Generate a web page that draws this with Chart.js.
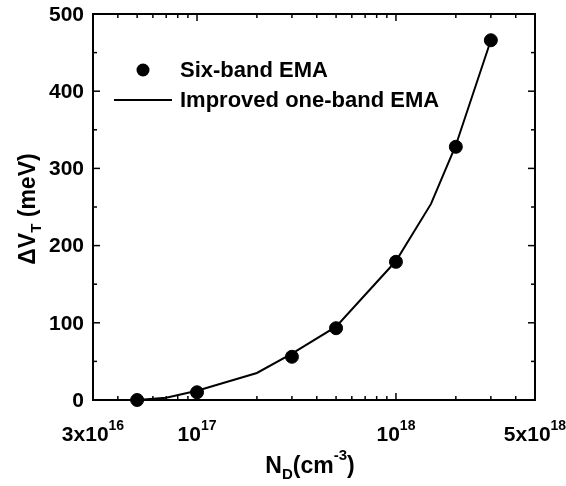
<!DOCTYPE html>
<html>
<head>
<meta charset="utf-8">
<script src="https://cdn.jsdelivr.net/npm/chart.js@4.4.0/dist/chart.umd.min.js"></script>
<style>
  html, body { margin: 0; padding: 0; background: #fff; }
  #wrap { width: 566px; height: 486px; }
</style>
</head>
<body>
<div id="wrap"><canvas id="vtChart" width="566" height="486"></canvas></div>
<script>
// doping density (cm^-3) and threshold shift (meV)
const sixBandND = [5e16, 1e17, 3e17, 5e17, 1e18, 2e18, 3e18];
const sixBandDVT = [0, 10, 56, 93, 179, 328, 466];
const oneBandND = [5e16, 7e16, 1e17, 2e17, 3e17, 5e17, 1e18, 1.5e18, 2e18, 3e18];
const oneBandDVT = [0, 3, 12, 35, 60, 95, 180, 254, 330, 466];

const yMajorTicks = [0, 100, 200, 300, 400, 500];
const yMinorTicks = [50, 150, 250, 350, 450];
const xMajorTicks = [1e17, 1e18];
const xMinorTicks = [4e16, 5e16, 6e16, 7e16, 8e16, 9e16,
  2e17, 3e17, 4e17, 5e17, 6e17, 7e17, 8e17, 9e17, 2e18, 3e18, 4e18];
const xTickLabels = [
  { v: 3e16, base: "3x10", exp: "16" },
  { v: 1e17, base: "10", exp: "17" },
  { v: 1e18, base: "10", exp: "18" },
  { v: 5e18, base: "5x10", exp: "18" },
];

const FONT = "'Liberation Sans', Arial, sans-serif";

function drawPow(ctx, base, exp, cx, y, size, supSize) {
  ctx.font = `bold ${size}px ${FONT}`;
  const wb = ctx.measureText(base).width;
  ctx.font = `bold ${supSize}px ${FONT}`;
  const we = ctx.measureText(exp).width;
  let x = cx - (wb + we) / 2;
  ctx.textAlign = "left";
  ctx.textBaseline = "alphabetic";
  ctx.font = `bold ${size}px ${FONT}`;
  ctx.fillText(base, x, y);
  ctx.font = `bold ${supSize}px ${FONT}`;
  ctx.fillText(exp, x + wb, y - size * 0.52);
}

// draws a run of [text, size, shift] pieces starting at x, returns the width
function drawRun(ctx, parts, x, y, measureOnly) {
  let w = 0;
  parts.forEach(([txt, size, dy]) => {
    ctx.font = `bold ${size}px ${FONT}`;
    if (!measureOnly) ctx.fillText(txt, x + w, y + dy);
    w += ctx.measureText(txt).width;
  });
  return w;
}

// frame, inward ticks, labels and legend
const framePlugin = {
  id: "frame",
  afterDraw(chart) {
    const { ctx, chartArea: a, scales } = chart;
    const xs = scales.x, ys = scales.y;
    ctx.save();
    ctx.strokeStyle = "#000";
    ctx.fillStyle = "#000";
    ctx.lineWidth = 2;
    ctx.strokeRect(a.left, a.top, a.right - a.left, a.bottom - a.top);

    ctx.lineWidth = 1.5;
    const tick = (x1, y1, x2, y2) => {
      ctx.beginPath(); ctx.moveTo(x1, y1); ctx.lineTo(x2, y2); ctx.stroke();
    };
    yMajorTicks.forEach(v => {
      const y = ys.getPixelForValue(v);
      tick(a.left, y, a.left + 7, y);
      tick(a.right, y, a.right - 7, y);
    });
    yMinorTicks.forEach(v => {
      const y = ys.getPixelForValue(v);
      tick(a.left, y, a.left + 4, y);
      tick(a.right, y, a.right - 4, y);
    });
    xMajorTicks.forEach(v => {
      const x = xs.getPixelForValue(v);
      tick(x, a.bottom, x, a.bottom - 7);
      tick(x, a.top, x, a.top + 7);
    });
    xMinorTicks.forEach(v => {
      const x = xs.getPixelForValue(v);
      tick(x, a.bottom, x, a.bottom - 4);
      tick(x, a.top, x, a.top + 4);
    });

    // y tick labels
    ctx.font = `bold 21px ${FONT}`;
    ctx.textAlign = "right";
    ctx.textBaseline = "middle";
    yMajorTicks.forEach(v => {
      ctx.fillText(String(v), a.left - 9, ys.getPixelForValue(v) + 1);
    });

    // x tick labels with exponents
    xTickLabels.forEach(t => {
      drawPow(ctx, t.base, t.exp, xs.getPixelForValue(t.v), a.bottom + 41, 21, 14);
    });

    // x title: N_D(cm^-3)
    ctx.textAlign = "left";
    ctx.textBaseline = "alphabetic";
    const xTitle = [["N", 23, 0], ["D", 15, 6], ["(cm", 23, 0], ["-3", 15, -13], [")", 23, 0]];
    const xw = drawRun(ctx, xTitle, 0, 0, true);
    drawRun(ctx, xTitle, 310 - xw / 2, 473, false);

    // y title: ΔV_T (meV), rotated
    ctx.save();
    ctx.translate(35, 0);
    ctx.rotate(-Math.PI / 2);
    const yTitle = [["\u0394V", 23, 0], ["T", 15, 6], [" (meV)", 23, 0]];
    const yw = drawRun(ctx, yTitle, 0, 0, true);
    drawRun(ctx, yTitle, -209 - yw / 2, 0, false);
    ctx.restore();

    // legend
    const ds = chart.data.datasets;
    ctx.font = `bold 22px ${FONT}`;
    ctx.textBaseline = "middle";
    ctx.beginPath();
    ctx.arc(143, 70, 6.5, 0, Math.PI * 2);
    ctx.fill();
    ctx.fillText(ds[0].label, 180, 71);
    ctx.lineWidth = 2;
    tick(114, 100, 172, 100);
    ctx.fillText(ds[1].label, 180, 101);
    ctx.restore();
  }
};

new Chart(document.getElementById("vtChart"), {
  type: "scatter",
  data: {
    datasets: [
      {
        label: "Six-band EMA",
        data: sixBandND.map((v, i) => ({ x: v, y: sixBandDVT[i] })),
        backgroundColor: "#000",
        borderColor: "#000",
        pointRadius: 6.5,
        showLine: false,
      },
      {
        label: "Improved one-band EMA",
        data: oneBandND.map((v, i) => ({ x: v, y: oneBandDVT[i] })),
        borderColor: "#000",
        borderWidth: 2,
        pointRadius: 0,
        showLine: true,
        fill: false,
      },
    ],
  },
  options: {
    responsive: false,
    animation: false,
    clip: false,
    layout: { padding: { left: 93, right: 31, top: 14, bottom: 86 } },
    plugins: { legend: { display: false }, tooltip: { enabled: false } },
    scales: {
      x: { type: "logarithmic", min: 3e16, max: 5e18, display: false },
      y: { type: "linear", min: 0, max: 500, display: false },
    },
  },
  plugins: [framePlugin],
});
</script>
</body>
</html>
